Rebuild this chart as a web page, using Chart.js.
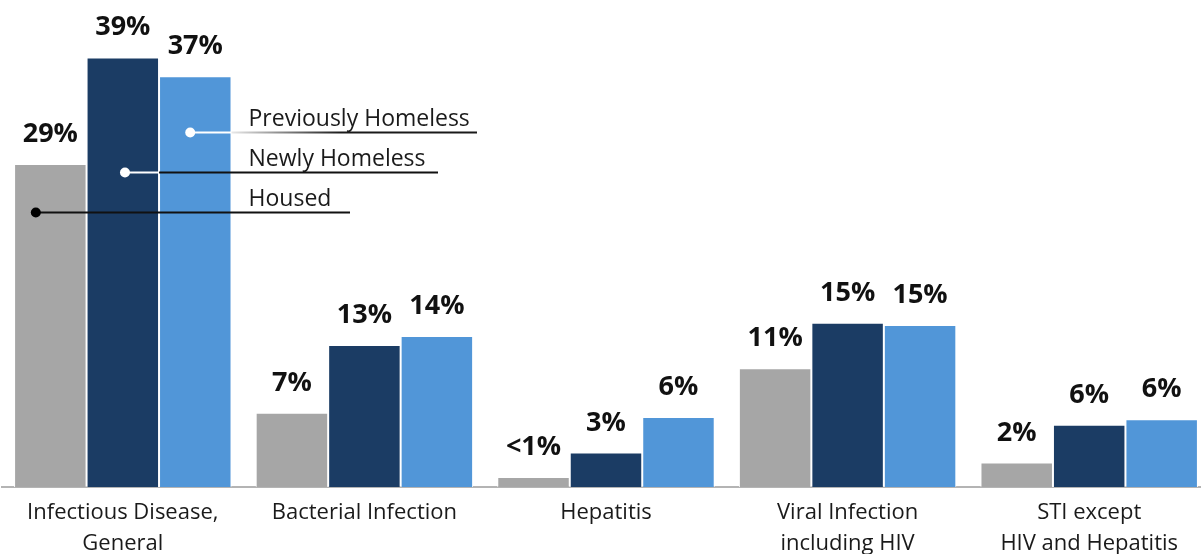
<!DOCTYPE html>
<html>
<head>
<meta charset="utf-8">
<script src="https://cdn.jsdelivr.net/npm/chart.js@4.4.1/dist/chart.umd.min.js"></script>
<style>
  html, body { margin: 0; padding: 0; background: #fff; overflow: hidden; }
  #wrap { width: 1212px; height: 554px; }
</style>
</head>
<body>
<div id="wrap"><canvas id="myChart"></canvas></div>
<script>
// Categories and percentages per group
var categories = [
    ['Infectious Disease,', 'General'],
    'Bacterial Infection',
    'Hepatitis',
    ['Viral Infection', 'including HIV'],
    ['STI except', 'HIV and Hepatitis']
];
var housed = [29.1, 6.7, 0.9, 10.7, 2.2];
var newlyHomeless = [38.7, 12.8, 3.1, 14.8, 5.6];
var previouslyHomeless = [37.0, 13.6, 6.3, 14.6, 6.1];
var seriesNames = ['Housed', 'Newly Homeless', 'Previously Homeless'];

var FONT = '"Open Sans", "Noto Sans", sans-serif';

function pctLabel(v) {
    if (v < 1) {
        return '<1%';
    }
    return Math.round(v) + '%';
}

// Bold percentage above each bar
var valueLabels = {
    id: 'valueLabels',
    afterDatasetsDraw: function(chart) {
        var ctx = chart.ctx;
        ctx.save();
        ctx.font = 'bold 27px ' + FONT;
        ctx.fillStyle = '#111';
        ctx.textAlign = 'center';
        ctx.textBaseline = 'alphabetic';
        chart.data.datasets.forEach(function(ds, i) {
            chart.getDatasetMeta(i).data.forEach(function(bar, j) {
                ctx.fillText(pctLabel(ds.data[j]), bar.x, bar.y - 22);
            });
        });
        ctx.restore();
    }
};

// Callout legend: a dot on each bar of the first group, a line out to the name
var calloutLegend = {
    id: 'calloutLegend',
    afterDatasetsDraw: function(chart) {
        var ctx = chart.ctx;
        var y = chart.scales.y;
        var bars = [0, 1, 2].map(function(i) { return chart.getDatasetMeta(i).data[0]; });
        var lastRight = bars[2].x + bars[2].width / 2;
        var textX = lastRight + 17;
        // shift = where the dot sits across the bar, -0.5 is the left edge
        var items = [
            { idx: 0, level: 24.8, shift: -0.2, end: 350, dot: '#000' },
            { idx: 1, level: 28.4, shift: 0.03, end: 438, dot: '#fff' },
            { idx: 2, level: 32.0, shift: -0.07, end: 477, dot: '#fff' }
        ];
        ctx.save();
        items.forEach(function(it) {
            var bar = bars[it.idx];
            var py = Math.round(y.getPixelForValue(it.level)) + 0.5;
            var dx = bar.x + bar.width * it.shift;
            var barRight = bar.x + bar.width / 2;
            ctx.lineWidth = 2;
            if (it.dot === '#fff') {
                ctx.strokeStyle = '#fff';
                ctx.beginPath();
                ctx.moveTo(dx, py);
                ctx.lineTo(barRight, py);
                ctx.stroke();
                if (it.idx === 2) {
                    var g = ctx.createLinearGradient(barRight, 0, barRight + 110, 0);
                    g.addColorStop(0, '#e8e8e8');
                    g.addColorStop(1, '#1a1a1a');
                    ctx.strokeStyle = g;
                } else {
                    ctx.strokeStyle = '#111';
                }
                ctx.beginPath();
                ctx.moveTo(barRight, py);
                ctx.lineTo(it.end, py);
                ctx.stroke();
            } else {
                ctx.strokeStyle = '#111';
                ctx.beginPath();
                ctx.moveTo(dx, py);
                ctx.lineTo(it.end, py);
                ctx.stroke();
            }
            ctx.fillStyle = it.dot;
            ctx.beginPath();
            ctx.arc(dx, py, 5, 0, Math.PI * 2);
            ctx.fill();

            ctx.font = '23px ' + FONT;
            ctx.fillStyle = '#1a1a1a';
            ctx.textAlign = 'left';
            ctx.textBaseline = 'alphabetic';
            ctx.fillText(seriesNames[it.idx], textX, py - 7);
        });
        ctx.restore();
    }
};

var ctx = document.getElementById('myChart').getContext('2d');
var myChart = new Chart(ctx, {
    type: 'bar',
    data: {
        labels: categories,
        datasets: [
            { label: seriesNames[0], data: housed, backgroundColor: '#a6a6a6' },
            { label: seriesNames[1], data: newlyHomeless, backgroundColor: '#1b3c64' },
            { label: seriesNames[2], data: previouslyHomeless, backgroundColor: '#5196d8' }
        ]
    },
    options: {
        responsive: true,
        maintainAspectRatio: false,
        animation: false,
        layout: { padding: { top: 43, left: 2, right: 2, bottom: 0 } },
        datasets: {
            bar: {
                categoryPercentage: 0.9,
                barPercentage: 1,
                borderColor: '#fff',
                borderWidth: { top: 1, left: 1, right: 1, bottom: 0 },
                borderSkipped: false
            }
        },
        plugins: {
            legend: { display: false },
            tooltip: { enabled: false }
        },
        scales: {
            x: {
                grid: { display: false },
                border: { display: true, color: '#b4b4b4', width: 2 },
                ticks: {
                    color: '#1a1a1a',
                    padding: 2,
                    maxRotation: 0,
                    autoSkip: false,
                    font: { family: FONT, size: 22, lineHeight: 1.41 }
                },
                afterFit: function(scale) {
                    scale.height = 67;
                }
            },
            y: {
                display: false,
                min: 0,
                max: 40
            }
        }
    },
    plugins: [valueLabels, calloutLegend]
});
</script>
</body>
</html>
